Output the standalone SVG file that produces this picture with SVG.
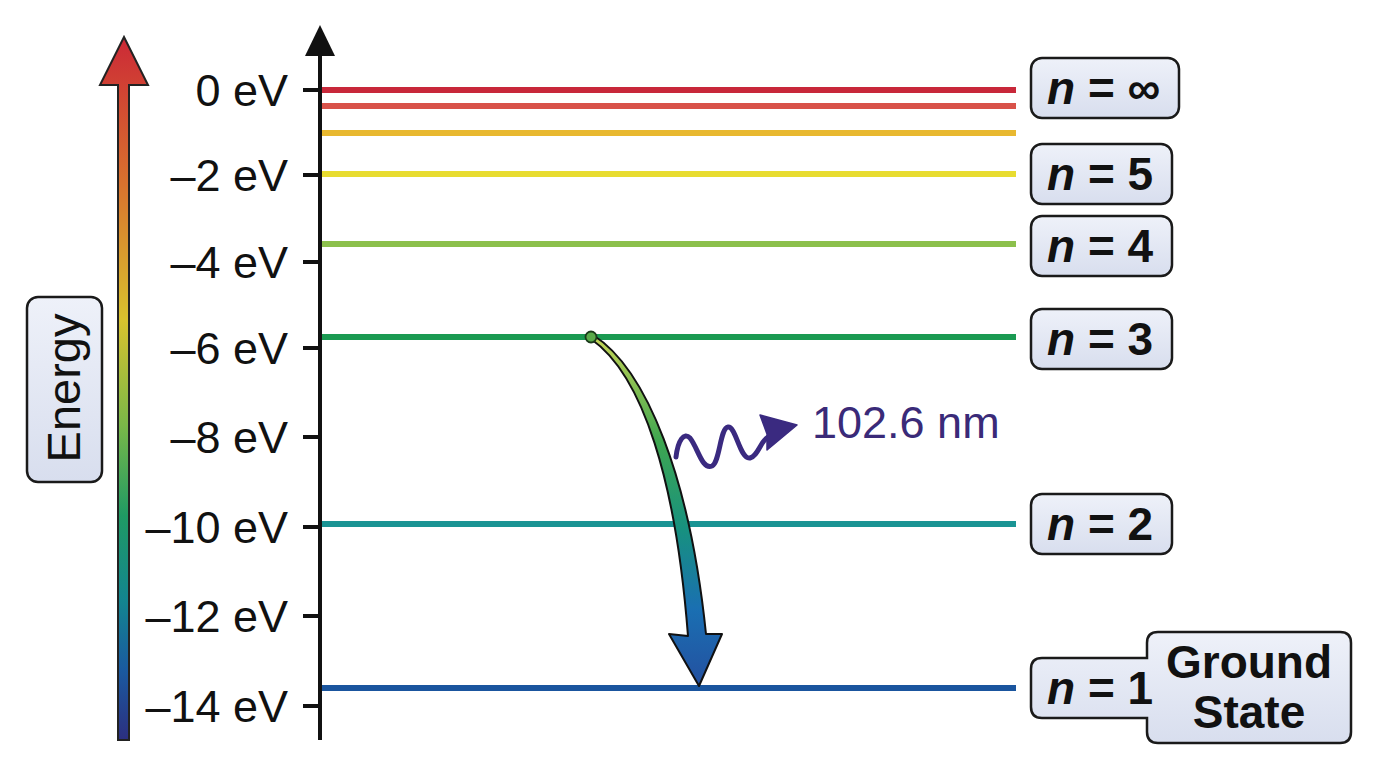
<svg xmlns="http://www.w3.org/2000/svg" width="1376" height="768" viewBox="0 0 1376 768">
<defs>
<linearGradient id="boxfill" x1="0" y1="0" x2="0" y2="1">
<stop offset="0" stop-color="#eef1f9"/>
<stop offset="1" stop-color="#d8deee"/>
</linearGradient>
<linearGradient id="energyGrad" gradientUnits="userSpaceOnUse" x1="0" y1="40" x2="0" y2="740">
<stop offset="0" stop-color="#cc2a36"/>
<stop offset="0.2" stop-color="#d8702e"/>
<stop offset="0.4" stop-color="#d8c22e"/>
<stop offset="0.55" stop-color="#7ab848"/>
<stop offset="0.68" stop-color="#1f9a64"/>
<stop offset="0.8" stop-color="#13858f"/>
<stop offset="0.9" stop-color="#1a5aa0"/>
<stop offset="1" stop-color="#2c2f80"/>
</linearGradient>
<linearGradient id="transGrad" gradientUnits="userSpaceOnUse" x1="0" y1="337" x2="0" y2="686">
<stop offset="0" stop-color="#c4d456"/>
<stop offset="0.3" stop-color="#3ea650"/>
<stop offset="0.55" stop-color="#17917f"/>
<stop offset="0.78" stop-color="#1a6fb2"/>
<stop offset="1" stop-color="#2450a0"/>
</linearGradient>
</defs>
<style>
.box{fill:url(#boxfill);stroke:#1a1a1a;stroke-width:2.5}
.lvl{stroke-width:6;fill:none}
.tick{stroke:#111;stroke-width:4}
.axlab{font-family:"Liberation Sans",Arial,sans-serif;font-size:45px;fill:#111;text-anchor:end}
.nlab{font-family:"Liberation Sans",Arial,sans-serif;font-size:46px;font-weight:bold;fill:#111}
.gs{font-family:"Liberation Sans",Arial,sans-serif;font-size:46px;font-weight:bold;fill:#111;text-anchor:middle}
</style>
<rect width="1376" height="768" fill="#ffffff"/>

<g id="energy-arrow">
<path d="M124 37 L148 85 L129 85 L129 740 L118 740 L118 85 L100 85 Z" fill="url(#energyGrad)" stroke="#222" stroke-width="2" stroke-linejoin="miter"/>
</g>
<g id="energy-label">
<rect class="box" x="27" y="297" width="75" height="185" rx="11"/>
<text transform="translate(80,388) rotate(-90)" text-anchor="middle" font-family="Liberation Sans, Arial, sans-serif" font-size="47" fill="#111">Energy</text>
</g>

<g id="axis">
<line x1="320" y1="45" x2="320" y2="740" stroke="#111" stroke-width="4"/>
<path d="M320 25 L335 56 L305 56 Z" fill="#111"/>
<line class="tick" x1="303" y1="90" x2="320" y2="90"/>
<line class="tick" x1="303" y1="175" x2="320" y2="175"/>
<line class="tick" x1="303" y1="262" x2="320" y2="262"/>
<line class="tick" x1="303" y1="348" x2="320" y2="348"/>
<line class="tick" x1="303" y1="437" x2="320" y2="437"/>
<line class="tick" x1="303" y1="527" x2="320" y2="527"/>
<line class="tick" x1="303" y1="616" x2="320" y2="616"/>
<line class="tick" x1="303" y1="706" x2="320" y2="706"/>
<text class="axlab" x="288" y="106">0 eV</text>
<text class="axlab" x="288" y="191">–2 eV</text>
<text class="axlab" x="288" y="278">–4 eV</text>
<text class="axlab" x="288" y="364">–6 eV</text>
<text class="axlab" x="288" y="453">–8 eV</text>
<text class="axlab" x="288" y="543">–10 eV</text>
<text class="axlab" x="288" y="632">–12 eV</text>
<text class="axlab" x="288" y="722">–14 eV</text>
</g>

<g id="levels">
<line class="lvl" x1="322" y1="90" x2="1016" y2="90" stroke="#c8283a"/>
<line class="lvl" x1="322" y1="106" x2="1016" y2="106" stroke="#d8524a"/>
<line class="lvl" x1="322" y1="133" x2="1016" y2="133" stroke="#e8b830"/>
<line class="lvl" x1="322" y1="174" x2="1016" y2="174" stroke="#e8dc30"/>
<line class="lvl" x1="322" y1="244" x2="1016" y2="244" stroke="#8cc04c"/>
<line class="lvl" x1="322" y1="337" x2="1016" y2="337" stroke="#1a9a52"/>
<line class="lvl" x1="322" y1="524" x2="1016" y2="524" stroke="#1a9494"/>
<line class="lvl" x1="322" y1="688" x2="1016" y2="688" stroke="#1a559e"/>
</g>

<g id="label-ninf">
<rect class="box" x="1031" y="58" width="148" height="60" rx="11"/>
<text class="nlab" x="1047" y="104"><tspan font-style="italic">n</tspan> = ∞</text>
</g>
<g id="label-n5">
<rect class="box" x="1031" y="144" width="141" height="60" rx="11"/>
<text class="nlab" x="1047" y="190"><tspan font-style="italic">n</tspan> = 5</text>
</g>
<g id="label-n4">
<rect class="box" x="1031" y="216" width="141" height="60" rx="11"/>
<text class="nlab" x="1047" y="262"><tspan font-style="italic">n</tspan> = 4</text>
</g>
<g id="label-n3">
<rect class="box" x="1031" y="309" width="141" height="60" rx="11"/>
<text class="nlab" x="1047" y="355"><tspan font-style="italic">n</tspan> = 3</text>
</g>
<g id="label-n2">
<rect class="box" x="1031" y="494" width="141" height="60" rx="11"/>
<text class="nlab" x="1047" y="540"><tspan font-style="italic">n</tspan> = 2</text>
</g>
<g id="label-n1">
<path class="box" d="M1042 658 H1147 V643 Q1147 632 1158 632 H1340 Q1351 632 1351 643 V732 Q1351 743 1340 743 H1158 Q1147 743 1147 732 V718 H1042 Q1031 718 1031 707 V669 Q1031 658 1042 658 Z"/>
<text class="nlab" x="1047" y="704"><tspan font-style="italic">n</tspan> = 1</text>
<text class="gs" x="1249" y="678">Ground</text>
<text class="gs" x="1249" y="728">State</text>
</g>

<g id="connectors">
<path d="M593 335 C647 369 690 479 706 634 L722 634 L699 686 L669 634 L688 636 C676 481 643 375 591 339 Z" fill="url(#transGrad)" stroke="#111" stroke-width="2" stroke-linejoin="round"/>
<circle cx="591" cy="337" r="5.5" fill="#5aaa4a" stroke="#1a3a1a" stroke-width="1.8"/>
<path d="M676 457 C678 440 684 432 690 438 C698 448 702 470 712 466 C720 462 720 428 728 427 C736 426 740 460 750 458 C758 456 760 442 768 437" fill="none" stroke="#3a2a80" stroke-width="5" stroke-linecap="round"/>
<path d="M797 425 L760 415 L767 434 L767 450 Z" fill="#3a2a80" stroke="#3a2a80" stroke-width="1.5" stroke-linejoin="round"/>
</g>
<g id="photon-label">
<text x="812" y="438" font-family="Liberation Sans, Arial, sans-serif" font-size="45" fill="#3a2a78">102.6 nm</text>
</g>
</svg>
